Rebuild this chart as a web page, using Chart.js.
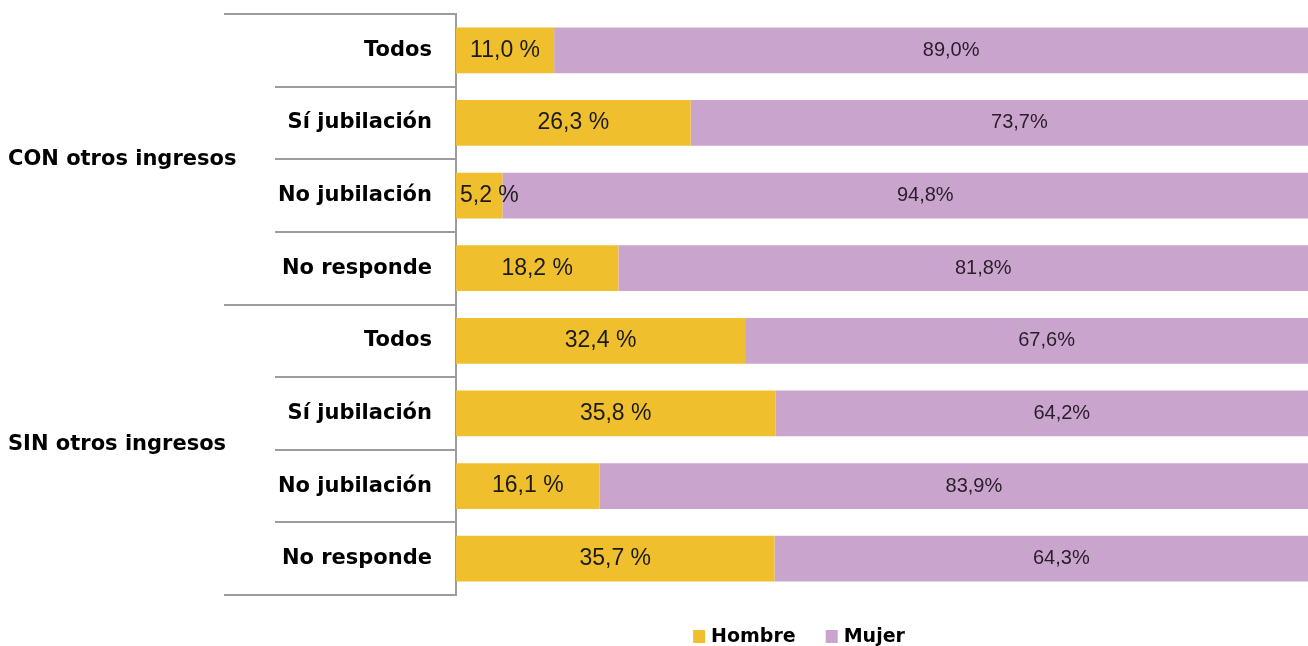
<!DOCTYPE html>
<html lang="es">
<head>
<meta charset="utf-8">
<title>Hombre / Mujer</title>
<script src="https://cdn.jsdelivr.net/npm/chart.js@4.4.1/dist/chart.umd.min.js"></script>
<style>
    html, body { margin: 0; padding: 0; background: #fff; }
    #wrap { width: 1308px; height: 646px; position: relative; }
</style>
</head>
<body>
<div id="wrap"><canvas id="grafico"></canvas></div>
<script>
// datos
const categorias = ['Todos', 'Sí jubilación', 'No jubilación', 'No responde',
                    'Todos', 'Sí jubilación', 'No jubilación', 'No responde'];
const grupos = ['CON otros ingresos', 'SIN otros ingresos'];
const hombre = [11.0, 26.3, 5.2, 18.2, 32.4, 35.8, 16.1, 35.7];
const mujer = [89.0, 73.7, 94.8, 81.8, 67.6, 64.2, 83.9, 64.3];
const series = ['Hombre', 'Mujer'];

const AMARILLO = '#F0BF2D';
const LILA = '#C9A5CD';
const LINEA = '#9c9c9c';

const fmt = (v, sep) => v.toFixed(1).replace('.', ',') + sep + '%';

// separators, group names, value labels and legend
const decorado = {
    id: 'decorado',
    beforeDatasetsDraw(chart) {
        const ctx = chart.ctx;
        const y = chart.scales.y;
        const left = chart.chartArea.left;
        ctx.save();
        ctx.strokeStyle = LINEA;
        ctx.lineWidth = 2;
        for (let i = 0; i <= categorias.length; i++) {
            const py = Math.round(y.getPixelForValue(i - 0.5));
            const x1 = (i % 4 === 0) ? 224 : 275;
            ctx.beginPath();
            ctx.moveTo(x1, py);
            ctx.lineTo(left, py);
            ctx.stroke();
        }
        ctx.fillStyle = '#000';
        ctx.font = 'bold 21px "DejaVu Sans"';
        ctx.textAlign = 'left';
        ctx.textBaseline = 'middle';
        grupos.forEach((g, k) => {
            const py = y.getPixelForValue(k * 4 + 1.5) - (k === 0 ? 0 : 5);
            ctx.fillText(g, 8, py);
        });
        ctx.restore();
    },
    afterDatasetsDraw(chart) {
        const ctx = chart.ctx;
        ctx.save();
        ctx.textBaseline = 'middle';
        ctx.textAlign = 'left';
        chart.data.datasets.forEach((ds, di) => {
            const meta = chart.getDatasetMeta(di);
            meta.data.forEach((bar, i) => {
                const v = ds.data[i];
                let txt, w, cx;
                if (di === 0) {
                    ctx.font = '23px "Liberation Sans", Arial, sans-serif';
                    ctx.fillStyle = '#1b1b1b';
                    txt = fmt(v, ' ');
                } else {
                    ctx.font = '20px "Liberation Sans", Arial, sans-serif';
                    ctx.fillStyle = '#2a1d2b';
                    txt = fmt(v, '');
                }
                w = ctx.measureText(txt).width;
                cx = (bar.x + bar.base) / 2;
                if (cx - w / 2 < bar.base + 4) cx = bar.base + 4 + w / 2;
                ctx.fillText(txt, cx - w / 2, bar.y);
            });
        });
        ctx.restore();
    },
    afterDraw(chart) {
        const ctx = chart.ctx;
        const colores = [AMARILLO, LILA];
        ctx.save();
        ctx.font = 'bold 19px "DejaVu Sans"';
        ctx.textBaseline = 'middle';
        ctx.textAlign = 'left';
        const caja = 12, hueco = 6, sep = 30;
        const anchos = series.map(s => caja + hueco + ctx.measureText(s).width);
        const total = anchos.reduce((a, b) => a + b, 0) + sep * (series.length - 1);
        let x = 799 - total / 2;
        const cy = 636;
        series.forEach((s, k) => {
            ctx.fillStyle = colores[k];
            ctx.fillRect(x, cy - 6, caja, 13);
            ctx.fillStyle = '#000';
            ctx.fillText(s, x + caja + hueco, cy + 1);
            x += anchos[k] + sep;
        });
        ctx.restore();
    }
};

new Chart(document.getElementById('grafico'), {
    type: 'bar',
    data: {
        labels: categorias,
        datasets: [
            {
                label: series[0],
                data: hombre,
                backgroundColor: AMARILLO,
                barPercentage: 0.63,
                categoryPercentage: 1
            },
            {
                label: series[1],
                data: mujer,
                backgroundColor: LILA,
                barPercentage: 0.63,
                categoryPercentage: 1
            }
        ]
    },
    plugins: [decorado],
    options: {
        indexAxis: 'y',
        responsive: true,
        maintainAspectRatio: false,
        animation: false,
        layout: { padding: { top: 14, bottom: 51, left: 0, right: 0 } },
        plugins: {
            legend: { display: false },
            tooltip: { enabled: false }
        },
        scales: {
            x: {
                stacked: true,
                display: false,
                min: 0,
                max: 95.5
            },
            y: {
                stacked: true,
                grid: { display: false, drawTicks: false },
                border: { display: true, color: LINEA, width: 2 },
                ticks: {
                    color: '#000',
                    padding: 24,
                    font: { family: 'DejaVu Sans', weight: 'bold', size: 21 }
                },
                afterFit: function (scale) {
                    scale.width = 456;
                    scale.paddingTop = 0;
                    scale.paddingBottom = 0;
                }
            }
        }
    }
});
</script>
</body>
</html>
